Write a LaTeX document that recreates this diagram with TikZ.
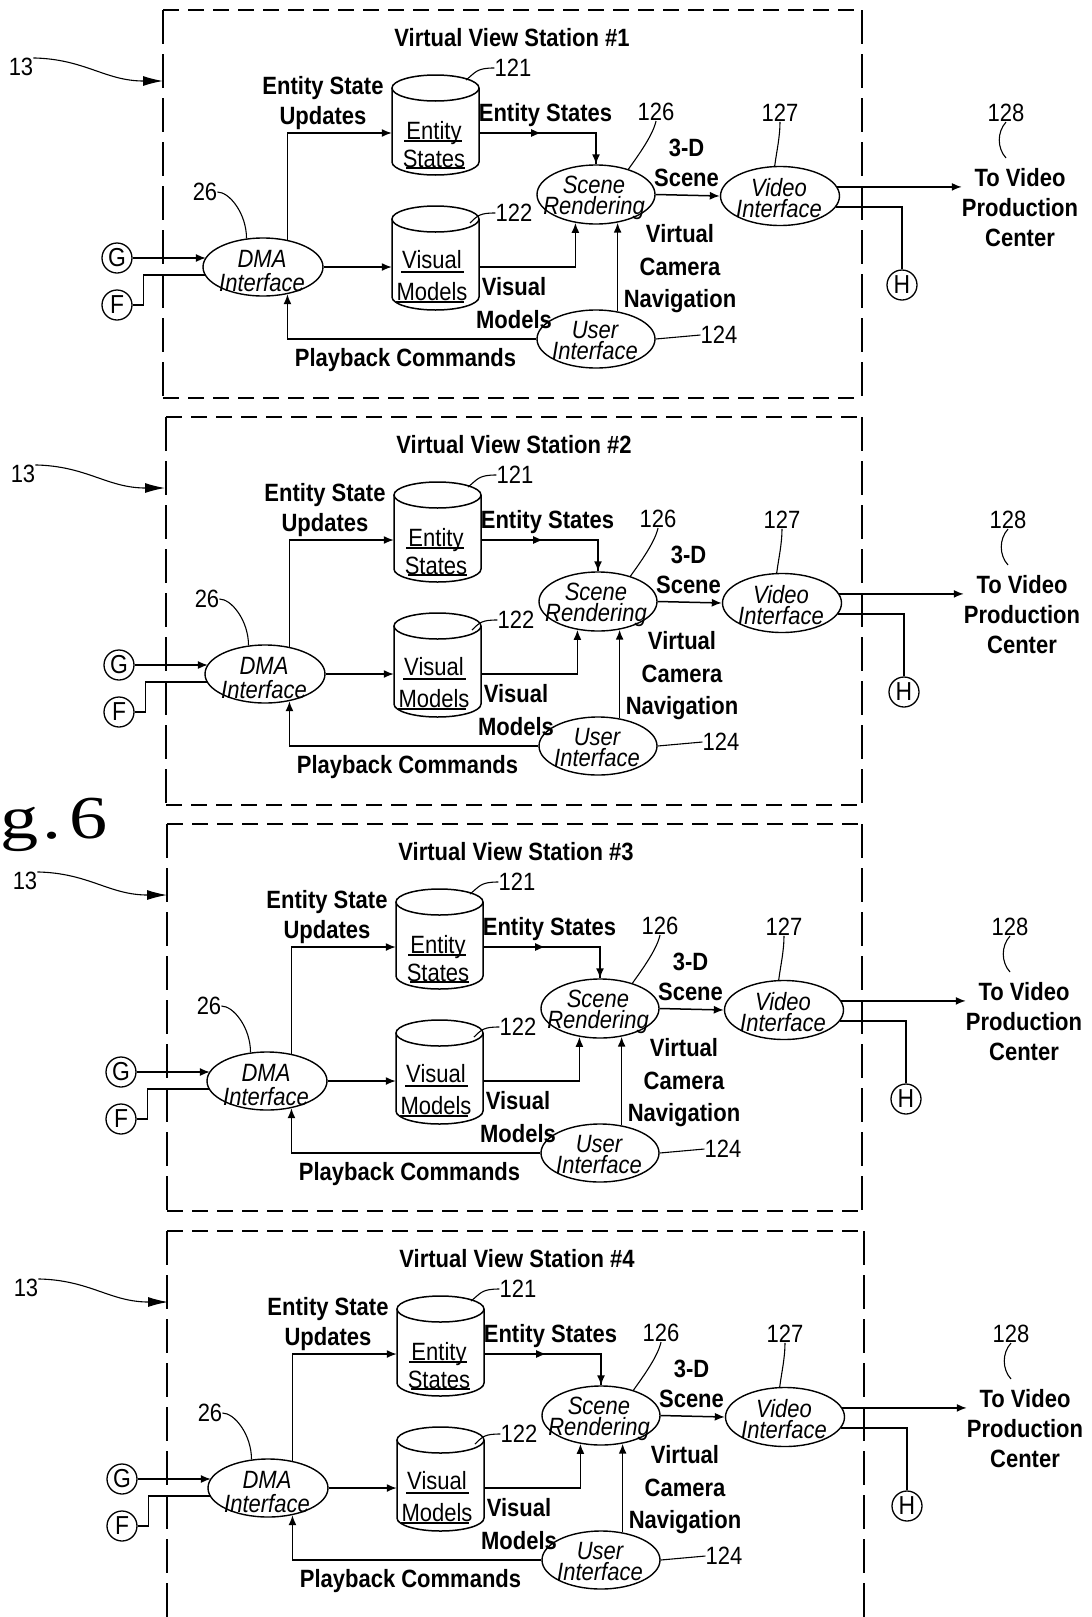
\documentclass[tikz,border=0pt]{standalone}
\usepackage{fontspec}
\usetikzlibrary{arrows.meta,shapes.geometric}
\newfontfamily\arn[FakeStretch=0.88]{Liberation Sans}
\newfontfamily\figfont[FakeStretch=1.25]{Liberation Serif}
\tikzset{
 ln/.style={line width=1.5pt},
 arr/.style={line width=1.5pt,-{Latex[length=10pt,width=8pt]}},
 ell/.style={draw,ellipse,line width=1.4pt,inner sep=0pt},
 bl/.style={font=\arn\bfseries\fontsize{25}{30}\selectfont,align=center,inner sep=0pt},
 itx/.style={font=\arn\itshape\fontsize{25}{21}\selectfont,align=center,inner sep=0pt},
 rg/.style={font=\arn\fontsize{25}{28}\selectfont,align=center,inner sep=0pt},
 num/.style={font=\arn\fontsize{25}{25}\selectfont,inner sep=0pt},
 lead/.style={line width=1.1pt},
 conn/.style={draw,circle,minimum size=30pt,inner sep=0pt,line width=1.3pt,font=\arn\fontsize{26}{26}\selectfont},
 boxh/.style={line width=1.3pt,dash pattern=on 16pt off 9pt},
 boxv/.style={line width=1.3pt,dash pattern=on 34pt off 10pt},
}
\newcommand\vvstation[3]{%
\begin{scope}[shift={(#2,#3)}]
\node[bl] (title#1) at (512,38) {Virtual View Station \##1};
% 13
\node[num] (nt#1) at (21,67) {13};
\coordinate (bt#1) at (163,81);
\draw[lead,-{Latex[length=20pt,width=10pt]}] (nt#1.north east) .. controls (85,59) and (105,81) .. (bt#1);
\node[bl] (esu#1) at (323,103) {Entity State\\Updates};
% entity cylinder
\node[inner sep=0pt,minimum width=87pt,minimum height=100pt] (ent#1) at (435.5,125) {};
\draw[ln] (392,88) -- (392,162) arc[start angle=180,end angle=0,x radius=43.5,y radius=13] -- (479,88);
\draw[ln] (435.5,88) ellipse[x radius=43.5,y radius=13];
\node[rg] (entt#1) at (434,145) {Entity\\States};
\draw[ln] (404,141) -- (462,141);
\draw[ln] (406,168) -- (465,168);
\node[num] (na#1) at (513,68) {121};
\coordinate (ca#1) at (466,80);
\draw[lead] (na#1.west) .. controls +(-18,0) and +(10,-8) .. (ca#1);
% visual cylinder
\node[inner sep=0pt,minimum width=87pt,minimum height=104pt] (vis#1) at (435.5,258) {};
\draw[ln] (392,219) -- (392,297) arc[start angle=180,end angle=0,x radius=43.5,y radius=13] -- (479,219);
\draw[ln] (435.5,219) ellipse[x radius=43.5,y radius=13];
\node[rg,font=\arn\fontsize{25}{32}\selectfont] (vist#1) at (432,276) {Visual\\Models};
\draw[ln] (401,272) -- (464,272);
\draw[ln] (396,302) -- (464,302);
\node[num] (nb#1) at (514,213) {122};
\coordinate (cb#1) at (470,223);
\draw[lead] (nb#1.west) .. controls +(-15,0) and +(8,-8) .. (cb#1);
% ellipses
\node[ell,minimum width=120pt,minimum height=58pt] (dma#1) at (263,267) {};
\node[itx,font=\arn\itshape\fontsize{25}{24}\selectfont] (dmat#1) at (262,271) {DMA\\Interface};
\node[ell,minimum width=118pt,minimum height=59pt] (scn#1) at (596,194.5) {};
\node[itx] (scnt#1) at (594,198) {Scene\\Rendering};
\node[ell,minimum width=119pt,minimum height=59pt] (vid#1) at (780,196) {};
\node[itx] (vidt#1) at (779,198) {Video\\Interface};
\node[ell,minimum width=118pt,minimum height=58pt] (ui#1) at (596,339) {};
\node[itx] (uit#1) at (595,341) {User\\Interface};
% connectors circles
\node[conn] (g#1) at (117,258) {G};
\node[conn] (f#1) at (117,305) {F};
\node[conn] (h#1) at (902,285) {H};
% labels
\node[bl] (esl#1) at (545.5,115) {Entity States};
\node[bl] (tds#1) at (686.5,163) {3-D\\Scene};
\node[bl] (tvp#1) at (1020,208) {To Video\\Production\\Center};
\node[bl,font=\arn\bfseries\fontsize{25}{33}\selectfont] (vml#1) at (514,303) {Visual\\Models};
\node[bl,font=\arn\bfseries\fontsize{25}{32.5}\selectfont] (vcn#1) at (680,269) {Virtual\\Camera\\Navigation};
\node[bl] (pbc#1) at (405.5,360) {Playback Commands};
\node[num] (nc#1) at (656,112) {126};
\node[num] (nd#1) at (780,113) {127};
\node[num] (ne#1) at (1006,113) {128};
\node[num] (nf#1) at (719,335) {124};
\node[num] (ng#1) at (205,192) {26};
% leaders
\draw[lead] (nc#1.south) .. controls +(-3,14) and +(10,-14) .. (scn#1.38);
\draw[lead] (nd#1.south) .. controls +(0,15) and +(2,-15) .. (vid#1.100);
\coordinate (ce#1) at (1006,158);
\draw[lead] (ne#1.south) .. controls +(-9,10) and +(-9,-10) .. (ce#1);
\draw[lead] (ui#1.east) -- (nf#1.west);
\draw[lead] (ng#1.east) .. controls +(12,0) and +(0,-25) .. (dma#1.120);
% flows
\draw[arr] (g#1.east) -- (g#1.east -| dma#1.170);
\draw[ln] (f#1.east) -- ++(11,0) |- (dma#1.188);
\draw[arr] (dma#1.48) |- ([yshift=-8pt]ent#1.west);
\draw[arr] (dma#1.east) -- (dma#1.east -| vis#1.west);
\draw[ln] ([yshift=-8pt]ent#1.east) -| (scn#1.north);
\draw[arr] ([yshift=-8pt]ent#1.east) -- ++(62,0);
\draw[arr] ([yshift=-8pt]ent#1.east -| scn#1.north) -- (scn#1.north);
\draw[arr] (dma#1.east -| vis#1.east) -| (scn#1.-126);
\draw[arr] (ui#1.52) -- (ui#1.52 |- scn#1.-53);
\draw[arr] (ui#1.west) -| (dma#1.-48);
\draw[arr] (scn#1.east) -- (vid#1.west);
\draw[arr] (vid#1.9) -- (vid#1.9 -| tvp#1.west);
\draw[ln] (vid#1.-11) -| (h#1.north);
\end{scope}}
\begin{document}
\begin{tikzpicture}[x=1pt,y=-1pt]
\useasboundingbox[fill=white] (0,0) rectangle (1092,1617);
% boxes
\draw[boxh] (163,10) -- (862,10);
\draw[boxh] (163,398) -- (862,398);
\draw[boxv] (163,10) -- (163,398);
\draw[boxv] (862,10) -- (862,398);
\draw[boxh] (166,417) -- (862,417);
\draw[boxh] (166,805) -- (862,805);
\draw[boxv] (166,417) -- (166,805);
\draw[boxv] (862,417) -- (862,805);
\draw[boxh] (167,824) -- (862,824);
\draw[boxh] (167,1211) -- (862,1211);
\draw[boxv] (167,824) -- (167,1211);
\draw[boxv] (862,824) -- (862,1211);
\draw[boxh] (167,1231) -- (864,1231);
\draw[boxv] (167,1231) -- (167,1617);
\draw[boxv] (864,1231) -- (864,1617);
\vvstation{1}{0}{0}
\vvstation{2}{2}{407}
\vvstation{3}{4}{814}
\vvstation{4}{5}{1221}
\node[font=\figfont\fontsize{61}{61}\selectfont,anchor=base west,inner sep=0pt] (fig) at (0,838) {g\kern4pt.\kern8pt6};
\end{tikzpicture}
\end{document}
